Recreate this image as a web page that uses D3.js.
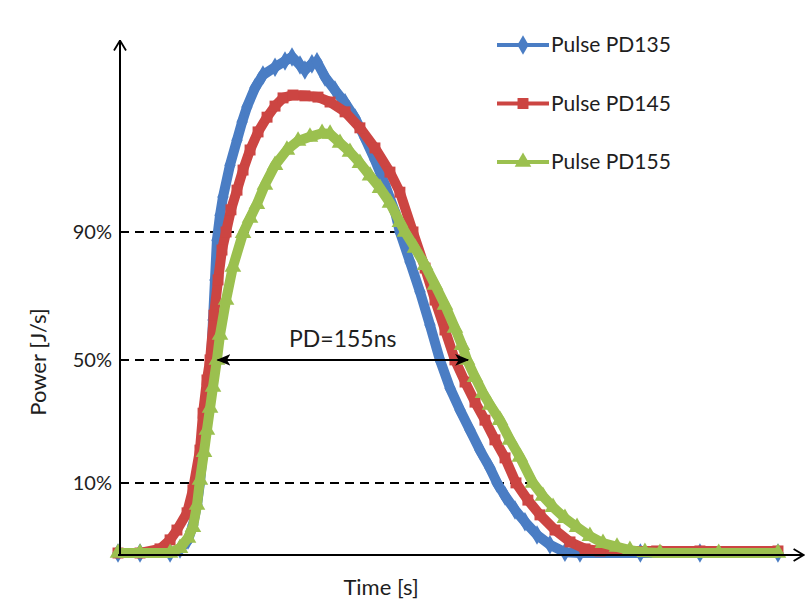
<!DOCTYPE html>
<html>
<head>
<meta charset="utf-8">
<script src="https://cdn.jsdelivr.net/npm/d3@7"></script>
<style>
  body { margin: 0; background: #fff; }
  text { font-family: Lato, "Open Sans", sans-serif; fill: #1e1e1e; }
</style>
</head>
<body>
<div id="chart"></div>
<script>
// time [ns], power [arbitrary units]
const pd135 = [
    [0, 0], [13.5, 0], [31.9, 0], [38.0, 1.0], [42.9, 3.2], [45.9, 6.8], [48.4, 11.7], [50.2, 17.1],
    [52.1, 25.1], [53.9, 33.7], [55.7, 42.2], [57.0, 47.1], [58.2, 56.8], [59.4, 66.6], [60.6, 76.3],
    [62.5, 82.4], [64.3, 86.8], [68.6, 94.6], [72.9, 100.7], [76.0, 105.1], [79.0, 108.8], [83.9, 113.4],
    [88.8, 116.6], [96.2, 118.5], [102.3, 120.0], [106.6, 121.0], [111.5, 119.0], [114.5, 117.8],
    [118.8, 119.3], [121.9, 119.8], [126.8, 116.1], [132.9, 112.9], [139.1, 109.8], [145.2, 106.1],
    [151.3, 101.2], [157.4, 95.9], [163.6, 89.8], [169.7, 83.2], [172.7, 78.3], [178.9, 71.0],
    [185.0, 63.7], [191.1, 55.6], [197.2, 47.1], [203.4, 40.2], [209.5, 34.9], [215.6, 30.0],
    [221.7, 25.1], [227.9, 20.7], [232.2, 17.1], [237.1, 13.9], [243.2, 10.5], [249.3, 7.6],
    [256.7, 4.4], [264.6, 2.0], [273.8, 0.2], [283.0, 0], [320.0, 0], [356.5, 0], [404.3, 0]
];
const pd145 = [
    [0, 0], [13.5, 0], [25.7, 1.0], [31.9, 3.2], [36.1, 5.6], [42.3, 9.8], [45.9, 15.4], [50.2, 25.1],
    [52.1, 34.1], [54.5, 42.2], [56.4, 47.1], [58.8, 58.0], [61.3, 66.6], [63.7, 73.9], [66.2, 78.3],
    [69.2, 83.7], [72.9, 88.5], [76.6, 93.4], [80.9, 98.3], [85.8, 102.7], [91.3, 106.3], [96.2, 109.0],
    [101.1, 111.0], [107.2, 111.7], [114.5, 111.5], [122.5, 111.2], [129.9, 110.0], [139.1, 107.6],
    [148.2, 103.7], [157.4, 98.8], [166.6, 92.9], [172.7, 88.0], [180.7, 78.3], [188.1, 69.5],
    [194.2, 61.7], [200.3, 54.4], [206.4, 47.1], [212.6, 41.7], [218.7, 36.8], [224.8, 32.4],
    [230.9, 27.6], [237.1, 23.2], [243.8, 17.1], [251.1, 12.9], [258.5, 9.3], [267.7, 5.6],
    [276.9, 2.7], [286.1, 1.0], [295.3, 0.5], [330.0, 0.5], [356.5, 0.5], [404.3, 0.5]
];
const pd155 = [
    [0, 0], [13.5, 0], [31.9, 0], [38.0, 1.2], [42.9, 3.7], [45.9, 6.3], [48.4, 11.7], [50.2, 17.8],
    [52.7, 24.6], [54.5, 30.0], [56.4, 35.4], [58.2, 40.5], [60.6, 47.1], [62.5, 53.2], [66.2, 61.7],
    [70.4, 69.8], [76.6, 78.0], [80.9, 81.7], [85.1, 85.1], [90.0, 89.8], [96.2, 94.6], [103.5, 98.3],
    [110.3, 100.5], [117.6, 101.5], [125.0, 102.4], [129.9, 102.2], [136.0, 100.0], [142.1, 97.8],
    [148.2, 95.1], [154.4, 92.0], [160.5, 89.0], [166.6, 85.4], [172.7, 80.7], [175.8, 78.3],
    [181.9, 74.4], [188.1, 70.2], [194.2, 65.4], [200.3, 60.5], [206.4, 54.9], [210.7, 50.7],
    [213.8, 47.1], [218.7, 42.9], [223.6, 39.0], [227.9, 36.1], [234.0, 32.4], [240.1, 27.6],
    [246.2, 23.4], [254.2, 17.1], [260.3, 13.9], [266.5, 11.2], [273.8, 8.5], [281.2, 6.3],
    [289.1, 4.1], [297.1, 2.4], [305.7, 1.5], [313.6, 0.7], [322.8, 0.2], [332.0, 0], [368.0, 0], [404.3, 0]
];

const seriesNames = ["Pulse PD135", "Pulse PD145", "Pulse PD155"];
const seriesColors = ["#4a7dc4", "#cc4542", "#9bc04f"];

// reference levels drawn as dashed lines
const levelLabels = ["10%", "50%", "90%"];
const levelValues = [17.1, 47.1, 78.3];
const levelEnds = [254.0, 61.0, 181.0];

// pulse duration annotation
const pdLabel = "PD=155ns";
const pdStart = 61.0;
const pdEnd = 214.4;

const width = 807, height = 601;

const svg = d3.select("#chart").append("svg")
    .attr("width", width)
    .attr("height", height);

const xScale = d3.scaleLinear().domain([0, 420]).range([118, 803.6]);
const yScale = d3.scaleLinear().domain([0, 125]).range([553, 40.5]);

const defs = svg.append("defs");
defs.append("marker")
    .attr("id", "chevron")
    .attr("viewBox", "0 0 12 14")
    .attr("refX", 11).attr("refY", 7)
    .attr("markerWidth", 12).attr("markerHeight", 14)
    .attr("markerUnits", "userSpaceOnUse")
    .attr("orient", "auto-start-reverse")
    .append("path")
    .attr("d", "M1,1 L11,7 L1,13")
    .attr("fill", "none")
    .attr("stroke", "#000")
    .attr("stroke-width", 1.8);
defs.append("marker")
    .attr("id", "solidArrow")
    .attr("viewBox", "0 0 12 10")
    .attr("refX", 11).attr("refY", 5)
    .attr("markerWidth", 14).attr("markerHeight", 12)
    .attr("markerUnits", "userSpaceOnUse")
    .attr("orient", "auto-start-reverse")
    .append("path")
    .attr("d", "M0,0 L12,5 L0,10 L3,5 Z")
    .attr("fill", "#000");

// dashed level lines
levelValues.forEach((v, i) => {
    svg.append("line")
        .attr("x1", xScale(0) + 2).attr("x2", xScale(levelEnds[i]))
        .attr("y1", yScale(v)).attr("y2", yScale(v))
        .attr("stroke", "#000")
        .attr("stroke-width", 2)
        .attr("stroke-dasharray", "9,6");
    svg.append("text")
        .attr("x", 112)
        .attr("y", yScale(v) + 7)
        .attr("text-anchor", "end")
        .style("font-size", "20px")
        .text(levelLabels[i]);
});

// series: thick line under dense markers
const line = d3.line().x(d => xScale(d[0])).y(d => yScale(d[1]));
const symbols = [d3.symbolDiamond, d3.symbolSquare, d3.symbolTriangle];
const symbolSizes = [110, 120, 120];

[pd135, pd145, pd155].forEach((data, i) => {
    const g = svg.append("g").attr("class", "series");
    g.append("path")
        .datum(data)
        .attr("d", line)
        .attr("fill", "none")
        .attr("stroke", seriesColors[i])
        .attr("stroke-width", 10)
        .attr("stroke-linejoin", "round");
    g.selectAll("path.mark")
        .data(data)
        .join("path")
        .attr("class", "mark")
        .attr("transform", d => `translate(${xScale(d[0])},${yScale(d[1])})`)
        .attr("d", d3.symbol().type(symbols[i]).size(symbolSizes[i]))
        .attr("fill", seriesColors[i]);
});

// axes with open arrowheads
svg.append("line")
    .attr("x1", xScale(0) + 2).attr("y1", yScale(0) + 2)
    .attr("x2", xScale(0) + 2).attr("y2", yScale(125))
    .attr("stroke", "#000").attr("stroke-width", 2)
    .attr("marker-end", "url(#chevron)");
svg.append("line")
    .attr("x1", xScale(0)).attr("y1", yScale(0) + 2)
    .attr("x2", xScale(420)).attr("y2", yScale(0) + 2)
    .attr("stroke", "#000").attr("stroke-width", 2)
    .attr("marker-end", "url(#chevron)");

// PD annotation
svg.append("line")
    .attr("x1", xScale(pdStart)).attr("x2", xScale(pdEnd))
    .attr("y1", yScale(47.1)).attr("y2", yScale(47.1))
    .attr("stroke", "#000").attr("stroke-width", 2)
    .attr("marker-start", "url(#solidArrow)")
    .attr("marker-end", "url(#solidArrow)");
svg.append("text")
    .attr("x", xScale((pdStart + pdEnd) / 2))
    .attr("y", yScale(47.1) - 13)
    .attr("text-anchor", "middle")
    .style("font-size", "23px")
    .text(pdLabel);

// axis titles
svg.append("text")
    .attr("transform", "translate(46,362) rotate(-90)")
    .attr("text-anchor", "middle")
    .style("font-size", "22px")
    .text("Power [J/s]");
svg.append("text")
    .attr("x", 381).attr("y", 595)
    .attr("text-anchor", "middle")
    .style("font-size", "22px")
    .text("Time [s]");

// legend
const legend = svg.append("g").attr("transform", "translate(497,45)");
seriesNames.forEach((name, i) => {
    const row = legend.append("g").attr("transform", `translate(0,${i * 58.5})`);
    row.append("line")
        .attr("x1", 0).attr("x2", 52)
        .attr("stroke", seriesColors[i]).attr("stroke-width", 4);
    row.append("path")
        .attr("transform", "translate(26,0)")
        .attr("d", d3.symbol().type(symbols[i]).size(symbolSizes[i]))
        .attr("fill", seriesColors[i]);
    row.append("text")
        .attr("x", 54).attr("y", 7)
        .style("font-size", "21px")
        .text(name);
});
</script>
</body>
</html>
